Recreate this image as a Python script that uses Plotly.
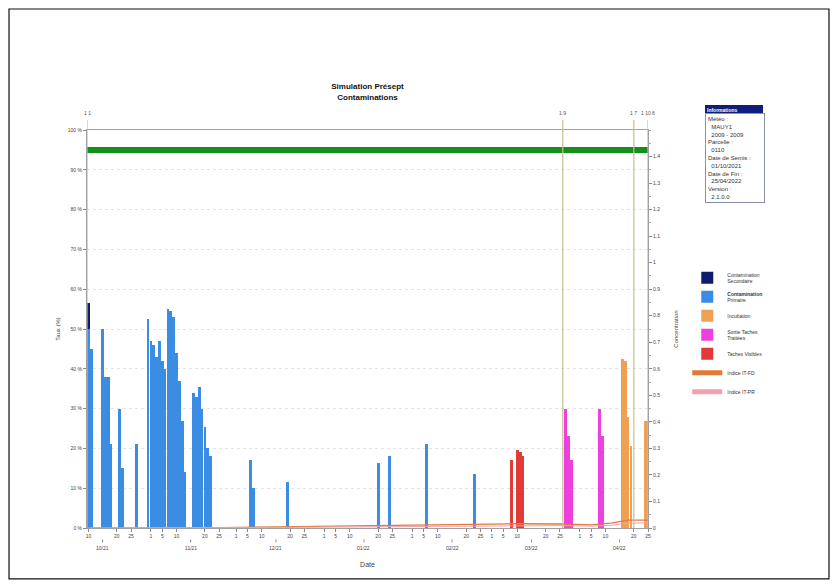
import plotly.graph_objects as go

# ---------------- data ----------------
title_text = "<b>Simulation Présept</b><br><b>Contaminations</b>"

prim_dates = ["2021-10-10", "2021-10-11", "2021-10-15", "2021-10-16", "2021-10-17", "2021-10-18",
              "2021-10-21", "2021-10-22", "2021-10-27",
              "2021-10-31", "2021-11-01", "2021-11-02", "2021-11-03", "2021-11-04", "2021-11-05",
              "2021-11-06", "2021-11-07", "2021-11-08", "2021-11-09", "2021-11-10", "2021-11-11",
              "2021-11-12", "2021-11-13",
              "2021-11-16", "2021-11-17", "2021-11-18", "2021-11-19", "2021-11-20", "2021-11-21", "2021-11-22",
              "2021-12-06", "2021-12-07", "2021-12-19", "2022-01-20", "2022-01-24", "2022-02-06", "2022-02-23"]
prim_vals = [50, 45, 50, 38, 38, 21,
             30, 15, 21,
             52.5, 47, 46, 43, 47, 42,
             40, 55, 54.5, 53, 44, 37,
             27, 14,
             34, 33, 35.5, 30, 25.5, 20, 18,
             17, 10, 11.5, 16.3, 18, 21, 13.5]

sec_dates = ["2021-10-10"]
sec_vals = [6.5]

incub_dates = ["2022-04-16", "2022-04-17", "2022-04-18", "2022-04-19", "2022-04-24", "2022-04-25"]
incub_vals = [42.5, 42, 28, 20.5, 27, 27]

sortie_dates = ["2022-03-27", "2022-03-28", "2022-03-29", "2022-04-08", "2022-04-09"]
sortie_vals = [30, 23, 17, 30, 23]

taches_dates = ["2022-03-08", "2022-03-10", "2022-03-11", "2022-03-12"]
taches_vals = [17, 19.5, 19, 18]

seuil_dates = ["2021-10-09 12:00", "2022-04-25"]
seuil_vals = [95, 95]

itfd_dates = ["2021-10-10", "2021-11-20", "2021-12-15", "2022-01-10", "2022-02-01", "2022-02-20",
              "2022-03-10", "2022-03-25", "2022-04-05", "2022-04-12", "2022-04-18", "2022-04-25"]
itfd_vals = [0.0, 0.0, 0.004, 0.008, 0.012, 0.014, 0.016, 0.015, 0.012, 0.018, 0.03, 0.03]

itpr_dates = ["2021-10-10", "2021-11-20", "2021-12-15", "2022-01-10", "2022-02-01", "2022-02-20",
              "2022-03-10", "2022-03-25", "2022-04-05", "2022-04-12", "2022-04-18", "2022-04-25"]
itpr_vals = [0.0, 0.0, 0.002, 0.004, 0.006, 0.008, 0.01, 0.009, 0.007, 0.01, 0.018, 0.02]

event_dates = ["2021-10-09 12:00", "2022-03-26", "2022-04-20", "2022-04-25"]
event_labels = ["1 1", "1 9", "1 7", "1 10 8"]

tick_dates = ["2021-10-10", "2021-10-20", "2021-10-25", "2021-11-01", "2021-11-05", "2021-11-10",
              "2021-11-20", "2021-11-25", "2021-12-01", "2021-12-05", "2021-12-10", "2021-12-20",
              "2021-12-25", "2022-01-01", "2022-01-05", "2022-01-10", "2022-01-20", "2022-01-25",
              "2022-02-01", "2022-02-05", "2022-02-10", "2022-02-20", "2022-02-25", "2022-03-01",
              "2022-03-05", "2022-03-10", "2022-03-20", "2022-03-25", "2022-04-01", "2022-04-05",
              "2022-04-10", "2022-04-20", "2022-04-25"]
tick_text = ["10", "20", "25", "1", "5", "10", "20", "25", "1", "5", "10", "20", "25", "1", "5", "10",
             "20", "25", "1", "5", "10", "20", "25", "1", "5", "10", "20", "25", "1", "5", "10", "20", "25"]

month_dates = ["2021-10-15", "2021-11-15", "2021-12-15", "2022-01-15", "2022-02-15", "2022-03-15", "2022-04-15"]
month_labels = ["10/21", "11/21", "12/21", "01/22", "02/22", "03/22", "04/22"]

left_ticks = [0, 10, 20, 30, 40, 50, 60, 70, 80, 90, 100]
left_text = ["0 %", "10 %", "20 %", "30 %", "40 %", "50 %", "60 %", "70 %", "80 %", "90 %", "100 %"]
right_ticks = [0, 0.1, 0.2, 0.3, 0.4, 0.5, 0.6, 0.7, 0.8, 0.9, 1.0, 1.1, 1.2, 1.3, 1.4]

info_lines = ["Météo :", "  MAUY1", "  2009 - 2009", "Parcelle :", "  0110", "Date de Semis :",
              "  01/10/2021", "Date de Fin :", "  25/04/2022", "Version :", "  2.1.0.0"]

x_range = ["2021-10-09 12:00", "2022-04-25"]

# ---------------- figure ----------------
FONT = "Liberation Sans"
fig = go.Figure()

fig.add_bar(x=prim_dates, y=prim_vals, name="<b>Contamination</b><br>Primaire", marker_color="#3a8de3",
            marker_line_width=0, legendrank=2)
fig.add_bar(x=sec_dates, y=sec_vals, name="Contamination<br>Secondaire", marker_color="#0b1d6b",
            marker_line_width=0, legendrank=1)
fig.add_bar(x=incub_dates, y=incub_vals, name="Incubation", marker_color="#f0a055", marker_line_width=0,
            legendrank=3)
fig.add_bar(x=sortie_dates, y=sortie_vals, name="Sortie Taches<br>Traitées", marker_color="#ee3fe0",
            marker_line_width=0, legendrank=4)
fig.add_bar(x=taches_dates, y=taches_vals, name="Taches Visibles", marker_color="#e23a36",
            marker_line_width=0, legendrank=5)

fig.add_scatter(x=seuil_dates, y=seuil_vals, mode="lines", line=dict(color="#14901a", width=6),
                showlegend=False, hoverinfo="skip")
fig.add_scatter(x=itfd_dates, y=itfd_vals, yaxis="y2", mode="lines", name="Indice IT-FD",
                line=dict(color="#e07a3a", width=1.3), legendrank=6)
fig.add_scatter(x=itpr_dates, y=itpr_vals, yaxis="y2", mode="lines", name="Indice IT-PR",
                line=dict(color="#f2a0b0", width=1.0), legendrank=7)

# event lines + labels
for d, lab in zip(event_dates, event_labels):
    fig.add_shape(type="line", xref="x", yref="paper", x0=d, x1=d, y0=0, y1=1.025,
                  line=dict(color="#c9bd8c", width=1.2))
    fig.add_annotation(x=d, xref="x", y=1.03, yref="paper", text=lab, showarrow=False,
                       yanchor="bottom", font=dict(size=5, color="#555555", family=FONT))

# month labels
for d, lab in zip(month_dates, month_labels):
    fig.add_annotation(x=d, xref="x", y=-0.037, yref="paper", text=lab, showarrow=False,
                       yanchor="top", font=dict(size=5, color="#444444", family=FONT))
    fig.add_shape(type="line", xref="x", yref="paper", x0=d, x1=d, y0=-0.029, y1=-0.036,
                  line=dict(color="#888888", width=1))

# info box
fig.add_annotation(xref="paper", yref="paper", x=1.102, y=1.063, xanchor="left", yanchor="top",
                   text="<b>Informations</b>", showarrow=False, bgcolor="#0d1f7a",
                   font=dict(size=5, color="white", family=FONT), width=54, align="left",
                   bordercolor="#0d1f7a", borderwidth=1, borderpad=1)
fig.add_annotation(xref="paper", yref="paper", x=1.102, y=1.043, xanchor="left", yanchor="top",
                   text="<br>".join(info_lines), showarrow=False, bgcolor="white",
                   font=dict(size=6, color="#333333", family=FONT), width=54, align="left",
                   bordercolor="#8a8fb0", borderwidth=1, borderpad=2)

# outer frame
fig.add_shape(type="rect", xref="paper", yref="paper", x0=-0.139, x1=1.3226, y0=-0.128, y1=1.304,
              line=dict(color="#111111", width=1.2), fillcolor="rgba(0,0,0,0)", layer="above")

fig.update_layout(
    width=822, height=572,
    margin=dict(l=79, r=182, t=122, b=52),
    paper_bgcolor="white", plot_bgcolor="white",
    barmode="stack", bargap=0.05,
    font=dict(family=FONT, size=6, color="#333333"),
    title=dict(text=title_text, x=0.5, xref="paper", y=0.858, yref="container",
               xanchor="center", yanchor="top", font=dict(size=8, color="#111111", family=FONT)),
    showlegend=True,
    legend=dict(x=1.07, y=0.665, xanchor="left", yanchor="top", font=dict(size=5, family=FONT),
                traceorder="normal", bgcolor="rgba(0,0,0,0)", tracegroupgap=4, itemsizing="constant",
                itemwidth=30),
    xaxis=dict(type="date", range=x_range, tickvals=tick_dates, ticktext=tick_text,
               ticks="outside", ticklen=3, tickcolor="#888888", showgrid=False,
               showline=True, linecolor="#a0a0a0", linewidth=1, mirror=True,
               tickfont=dict(size=5, color="#444444"), zeroline=False,
               title=dict(text="Date", font=dict(size=7, color="#444444"), standoff=24)),
    yaxis=dict(range=[0, 100], tickvals=left_ticks, ticktext=left_text, ticks="outside",
               ticklen=3, tickcolor="#888888", showgrid=True, gridcolor="#e4e4e4", griddash="dot",
               showline=True, linecolor="#a0a0a0", linewidth=1, zeroline=False,
               tickfont=dict(size=5, color="#444444"),
               title=dict(text="Taux (%)", font=dict(size=6, color="#444444"), standoff=6)),
    yaxis2=dict(range=[0, 1.5], overlaying="y", side="right", tickvals=right_ticks,
                ticks="outside", ticklen=3, tickcolor="#888888", showgrid=False,
                showline=True, linecolor="#a0a0a0", linewidth=1, zeroline=False,
                minor=dict(dtick=0.05, ticks="outside", ticklen=2, tickcolor="#aaaaaa"),
                tickfont=dict(size=5, color="#444444"),
                title=dict(text="Concentration", font=dict(size=6, color="#444444"), standoff=14)),
)

fig.write_html("out.html")
